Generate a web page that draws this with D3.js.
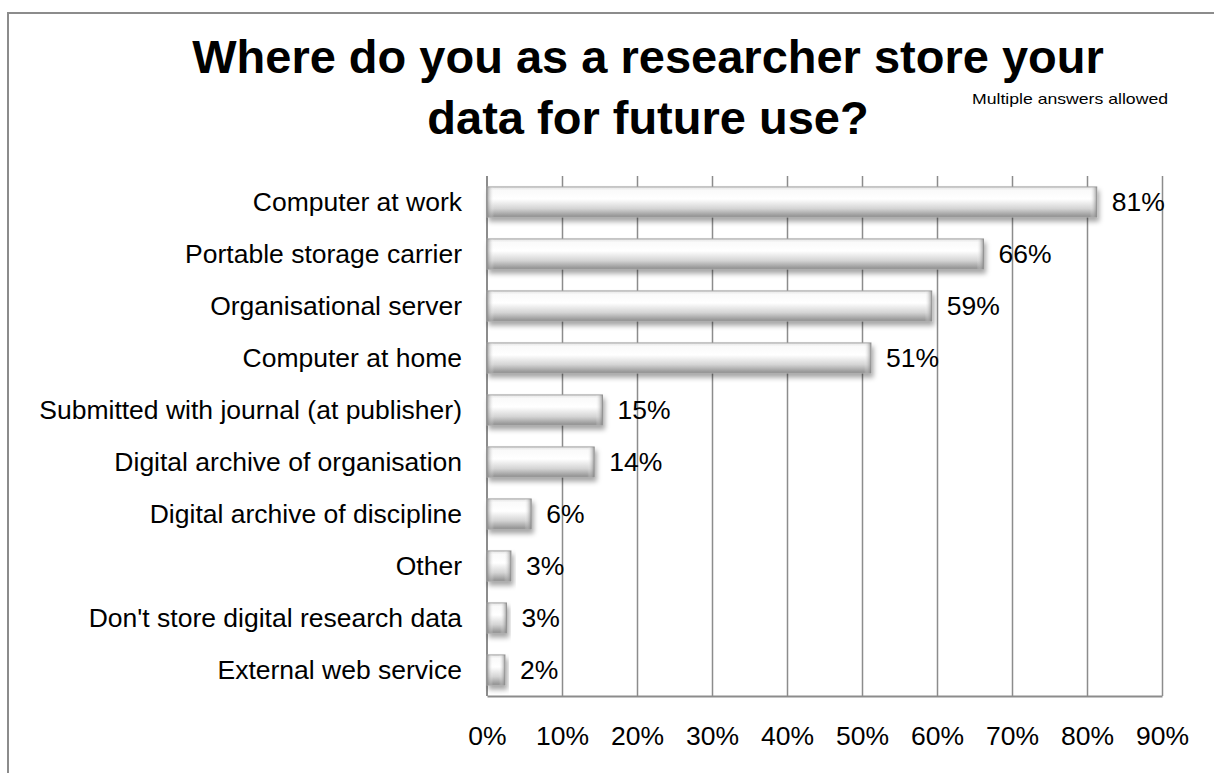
<!DOCTYPE html>
<html>
<head>
<meta charset="utf-8">
<script src="https://cdn.jsdelivr.net/npm/d3@7"></script>
<style>
  body { margin: 0; background: #fff; }
  svg { display: block; font-family: "Liberation Sans", Arial, sans-serif; }
</style>
</head>
<body>
<svg id="chart" width="1214" height="773"></svg>
<script>
// data
var categories = [
    "Computer at work",
    "Portable storage carrier",
    "Organisational server",
    "Computer at home",
    "Submitted with journal (at publisher)",
    "Digital archive of organisation",
    "Digital archive of discipline",
    "Other",
    "Don't store digital research data",
    "External web service"
];
var percentages = [81.3, 66.2, 59.3, 51.2, 15.4, 14.3, 5.9, 3.2, 2.6, 2.4];
var xTicks = [0, 10, 20, 30, 40, 50, 60, 70, 80, 90];
var titleLines = ["Where do you as a researcher store your", "data for future use?"];
var note = "Multiple answers allowed";

var data = categories.map(function(c, i) {
    return { cat: c, value: percentages[i] };
});

var svg = d3.select("#chart");

var plot = { left: 487, right: 1162, top: 176, bottom: 696 };

// outer frame (left and top only)
svg.append("path")
    .attr("d", "M8,773 L8,13 L1214,13")
    .attr("fill", "none")
    .attr("stroke", "#8c8c8c")
    .attr("stroke-width", 2);

// title
svg.append("text")
    .attr("x", 648)
    .attr("y", 73)
    .attr("text-anchor", "middle")
    .attr("font-size", "47px")
    .attr("font-weight", "bold")
    .text(titleLines[0]);
svg.append("text")
    .attr("x", 648)
    .attr("y", 134)
    .attr("text-anchor", "middle")
    .attr("font-size", "47px")
    .attr("font-weight", "bold")
    .text(titleLines[1]);

svg.append("text")
    .attr("x", 972)
    .attr("y", 104)
    .attr("font-size", "15px")
    .attr("textLength", 196)
    .attr("lengthAdjust", "spacingAndGlyphs")
    .text(note);

var xScale = d3.scaleLinear().domain([0, 90]).range([plot.left, plot.right]);
var yScale = d3.scaleBand()
    .domain(categories)
    .range([plot.top, plot.bottom])
    .paddingInner(0.42)
    .paddingOuter(0.21);

// defs: gradients + shadow
var defs = svg.append("defs");
var vg = defs.append("linearGradient")
    .attr("id", "barFill")
    .attr("x1", 0).attr("y1", 0).attr("x2", 0).attr("y2", 1);
vg.append("stop").attr("offset", "0%").attr("stop-color", "#e4e4e4");
vg.append("stop").attr("offset", "12%").attr("stop-color", "#fafafa");
vg.append("stop").attr("offset", "40%").attr("stop-color", "#ffffff");
vg.append("stop").attr("offset", "72%").attr("stop-color", "#d4d4d4");
vg.append("stop").attr("offset", "100%").attr("stop-color", "#8e8e8e");

var lg = defs.append("linearGradient")
    .attr("id", "edgeL")
    .attr("x1", 0).attr("y1", 0).attr("x2", 1).attr("y2", 0);
lg.append("stop").attr("offset", "0%").attr("stop-color", "#808080").attr("stop-opacity", 0.75);
lg.append("stop").attr("offset", "100%").attr("stop-color", "#ffffff").attr("stop-opacity", 0);

var rg = defs.append("linearGradient")
    .attr("id", "edgeR")
    .attr("x1", 0).attr("y1", 0).attr("x2", 1).attr("y2", 0);
rg.append("stop").attr("offset", "0%").attr("stop-color", "#ffffff").attr("stop-opacity", 0);
rg.append("stop").attr("offset", "100%").attr("stop-color", "#808080").attr("stop-opacity", 0.75);

var shadow = defs.append("filter")
    .attr("id", "shadow")
    .attr("x", "-10%").attr("y", "-20%")
    .attr("width", "130%").attr("height", "180%");
shadow.append("feDropShadow")
    .attr("dx", 2).attr("dy", 4)
    .attr("stdDeviation", 2.5)
    .attr("flood-color", "#000")
    .attr("flood-opacity", 0.35);

// gridlines
svg.append("g")
    .attr("transform", "translate(0," + plot.bottom + ")")
    .call(d3.axisBottom(xScale).tickValues(xTicks.slice(1)).tickSize(-(plot.bottom - plot.top)).tickFormat(""))
    .call(function(g) { g.select(".domain").remove(); })
    .selectAll("line")
    .attr("stroke", "#8c8c8c")
    .attr("stroke-width", 1.5);

// x axis
var xAxis = svg.append("g")
    .attr("transform", "translate(0," + plot.bottom + ")")
    .call(d3.axisBottom(xScale)
        .tickValues(xTicks)
        .tickSize(0)
        .tickPadding(30)
        .tickFormat(function(d) { return d + "%"; }));
xAxis.select(".domain")
    .attr("stroke", "#8c8c8c")
    .attr("stroke-width", 2);
xAxis.selectAll("text")
    .attr("font-size", "26.5px")
    .attr("font-family", "Liberation Sans, Arial, sans-serif")
    .attr("fill", "#000");

// y axis line
svg.append("line")
    .attr("x1", plot.left).attr("x2", plot.left)
    .attr("y1", plot.top).attr("y2", plot.bottom)
    .attr("stroke", "#8c8c8c")
    .attr("stroke-width", 2);

// category labels
svg.append("g")
    .selectAll("text")
    .data(data)
    .enter().append("text")
    .attr("x", plot.left - 25)
    .attr("y", function(d) { return yScale(d.cat) + yScale.bandwidth() / 2; })
    .attr("dy", "0.35em")
    .attr("text-anchor", "end")
    .attr("font-size", "26.5px")
    .text(function(d) { return d.cat; });

// bars
var bars = svg.append("g")
    .selectAll(".bar")
    .data(data)
    .enter().append("g")
    .attr("class", "bar");

bars.append("rect")
    .attr("x", xScale(0))
    .attr("y", function(d) { return yScale(d.cat); })
    .attr("width", function(d) { return xScale(d.value) - xScale(0); })
    .attr("height", yScale.bandwidth())
    .attr("fill", "url(#barFill)")
    .attr("stroke", "#a0a0a0")
    .attr("stroke-width", 1)
    .attr("filter", "url(#shadow)");

bars.append("rect")
    .attr("x", xScale(0))
    .attr("y", function(d) { return yScale(d.cat); })
    .attr("width", function(d) { return Math.min(7, (xScale(d.value) - xScale(0)) / 3); })
    .attr("height", yScale.bandwidth())
    .attr("fill", "url(#edgeL)");

bars.append("rect")
    .attr("x", function(d) { return xScale(d.value) - Math.min(7, (xScale(d.value) - xScale(0)) / 3); })
    .attr("y", function(d) { return yScale(d.cat); })
    .attr("width", function(d) { return Math.min(7, (xScale(d.value) - xScale(0)) / 3); })
    .attr("height", yScale.bandwidth())
    .attr("fill", "url(#edgeR)");

// value labels
bars.append("text")
    .attr("x", function(d) { return xScale(d.value) + 15; })
    .attr("y", function(d) { return yScale(d.cat) + yScale.bandwidth() / 2; })
    .attr("dy", "0.35em")
    .attr("font-size", "26.5px")
    .text(function(d) { return Math.round(d.value) + "%"; });
</script>
</body>
</html>
